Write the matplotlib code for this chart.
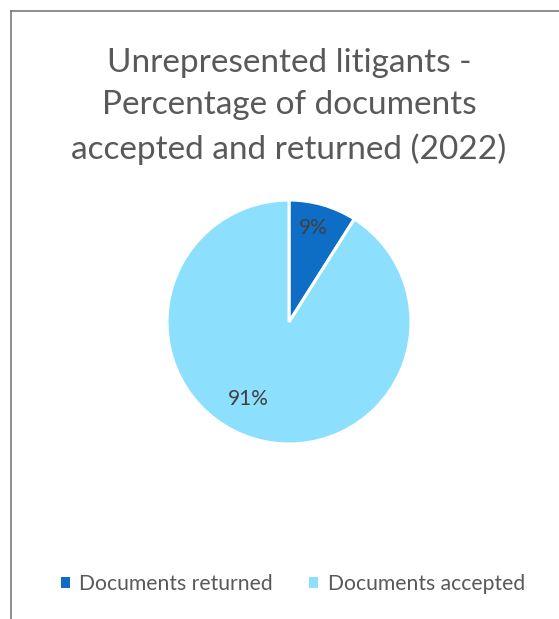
import matplotlib.pyplot as plt
from matplotlib.lines import Line2D
from matplotlib.patches import Patch

# data
categories = ["Documents returned", "Documents accepted"]
shares = [9, 91]
colors = ["#0E6EC6", "#8CDFFD"]
title = "Unrepresented litigants -\nPercentage of documents\naccepted and returned (2022)"

plt.rcParams["font.family"] = ["Lato", "DejaVu Sans"]

W, H = 559, 619
fig = plt.figure(figsize=(W / 100, H / 100), dpi=100)
fig.patch.set_facecolor("white")

# chart frame (left and top edges only show)
fig.add_artist(Line2D([11 / W, 11 / W], [0, 1 - 11 / H], color="#7a7a7a", lw=1.2))
fig.add_artist(Line2D([11 / W, 1], [1 - 11 / H, 1 - 11 / H], color="#7a7a7a", lw=1.2))

fig.text(289 / W, 1 - 106.5 / H, title, ha="center", va="center",
         fontsize=24, color="#595959", linespacing=1.52)

# pie: centre (289, 322) px, radius 122 px
cx, cy, r = 289, 322, 122
ax = fig.add_axes([(cx - r) / W, 1 - (cy + r) / H, 2 * r / W, 2 * r / H])
wedges, texts, autotexts = ax.pie(
    shares, colors=colors, startangle=90, counterclock=False,
    autopct=lambda p: f"{p:.0f}%", pctdistance=0.8,
    wedgeprops=dict(edgecolor="white", linewidth=2.2, clip_on=False),
    textprops=dict(fontsize=15, color="#404040"),
)
autotexts[0].set_position((0.2, 0.77))
autotexts[1].set_position((-0.33, -0.63))
ax.set_xlim(-1, 1)
ax.set_ylim(-1, 1)
ax.axis("off")

handles = [Patch(facecolor=c, edgecolor="none") for c in colors]
fig.legend(handles, categories, loc="center", bbox_to_anchor=(293 / W, 1 - 584 / H),
           ncol=2, frameon=False, fontsize=15.2, handlelength=0.42, handleheight=0.42,
           handletextpad=0.45, columnspacing=1.72, labelcolor="#595959")

fig.savefig("out.png", dpi=100)
